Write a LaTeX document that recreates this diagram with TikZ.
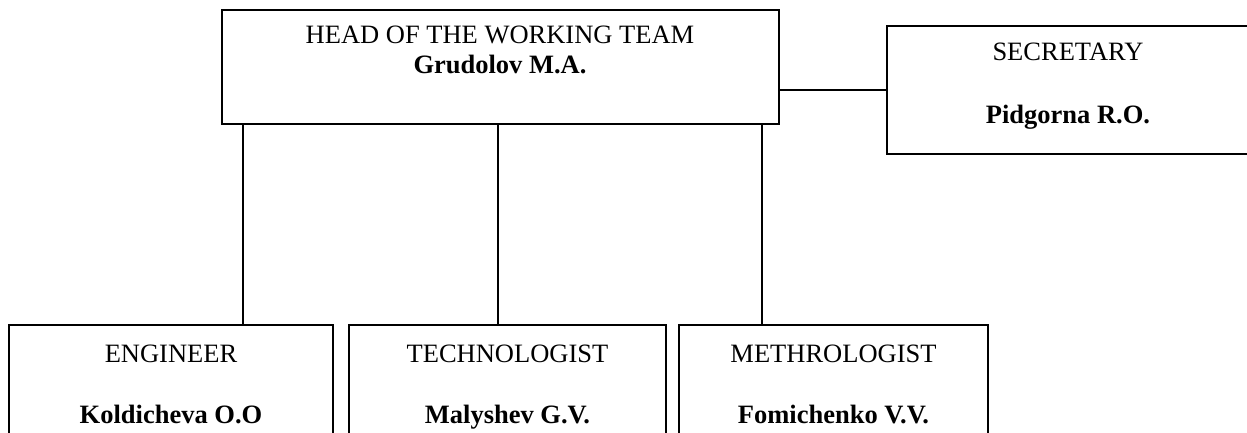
\documentclass[tikz,border=0pt]{standalone}
\usepackage{fontspec}
\setmainfont{Liberation Serif}
\begin{document}
\begin{tikzpicture}[x=1pt,y=-1pt,
  box/.style={draw=black,line width=1.3pt,rectangle,inner sep=0pt},
  lbl/.style={anchor=base,inner sep=0pt,font=\fontsize{26.5}{30}\selectfont},
  conn/.style={draw=black,line width=1.3pt}]
\useasboundingbox (0,0) rectangle (1247,432);
% boxes
\node[box,minimum width=557pt,minimum height=114pt] (head) at (500.5,67) {};
\node[box,minimum width=362pt,minimum height=128pt] (sec) at (1068,90) {};
\node[box,minimum width=324pt,minimum height=130pt] (eng) at (171,390) {};
\node[box,minimum width=317pt,minimum height=130pt] (tech) at (507.5,390) {};
\node[box,minimum width=309pt,minimum height=130pt] (meth) at (833.5,390) {};
% texts
\node[lbl] (headt) at (500,43) {HEAD OF THE WORKING TEAM};
\node[lbl] (headn) at (500,73) {\textbf{Grudolov M.A.}};
\node[lbl] (sect) at (1068,60) {SECRETARY};
\node[lbl] (secn) at (1068,123) {\textbf{Pidgorna R.O.}};
\node[lbl] (engt) at (171,362) {ENGINEER};
\node[lbl] (engn) at (171,423) {\textbf{Koldicheva O.O}};
\node[lbl] (techt) at (507.5,362) {TECHNOLOGIST};
\node[lbl] (techn) at (507.5,423) {\textbf{Malyshev G.V.}};
\node[lbl] (metht) at (833.5,362) {METHROLOGIST};
\node[lbl] (methn) at (833.5,423) {\textbf{Fomichenko V.V.}};
% connectors
\coordinate (x1) at (243,0);
\coordinate (x2) at (498,0);
\coordinate (x3) at (762,0);
\draw[conn] (sec.west) -- (sec.west -| head.east);
\draw[conn] (x1 |- head.south) -- (x1 |- eng.north);
\draw[conn] (x2 |- head.south) -- (x2 |- tech.north);
\draw[conn] (x3 |- head.south) -- (x3 |- meth.north);
\end{tikzpicture}
\end{document}
